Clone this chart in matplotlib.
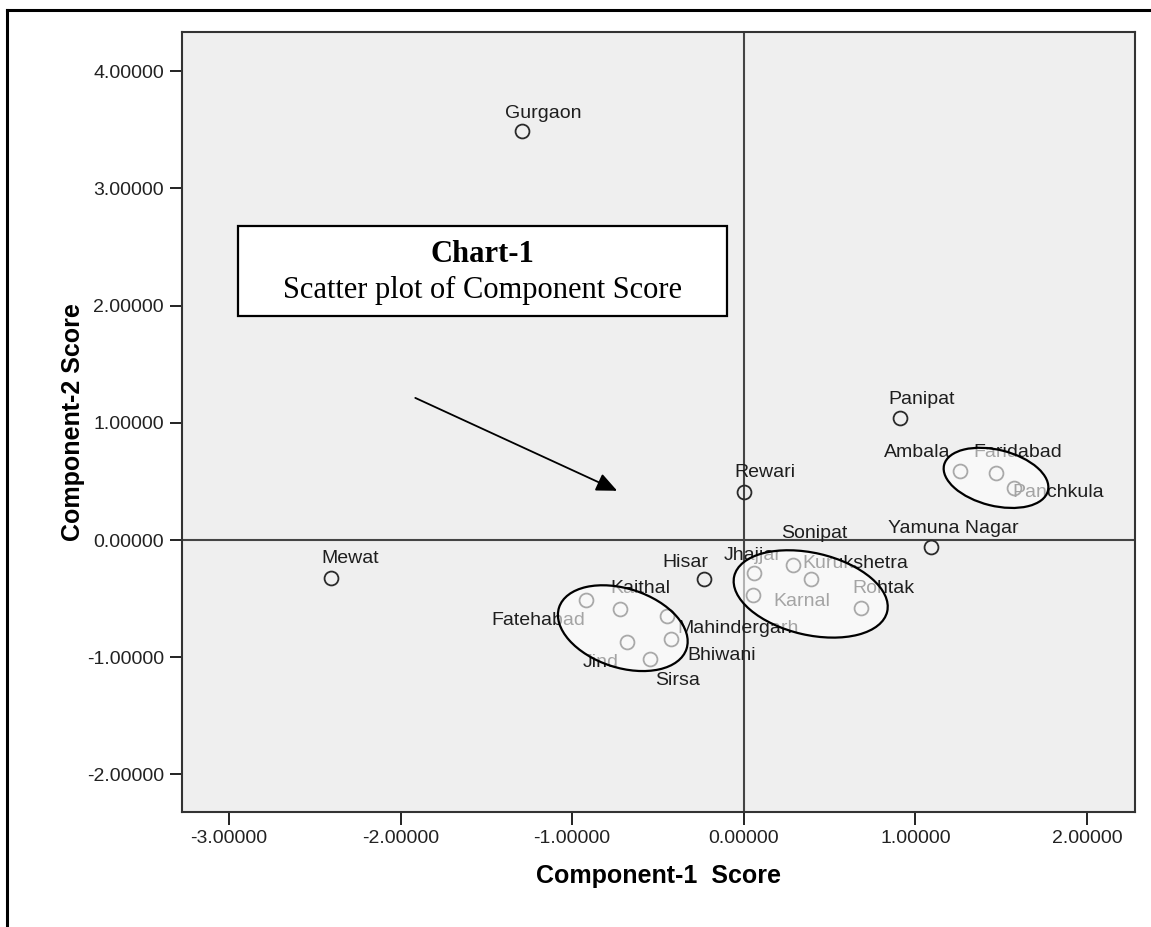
import matplotlib
matplotlib.use("Agg")
import matplotlib.pyplot as plt
from matplotlib.patches import Ellipse, Rectangle
from matplotlib.lines import Line2D
from matplotlib.transforms import ScaledTranslation

# component scores per district
districts = ['Gurgaon', 'Mewat', 'Panipat', 'Rewari', 'Ambala', 'Faridabad',
             'Panchkula', 'Yamuna Nagar', 'Jhajjar', 'Karnal', 'Sonipat',
             'Kurukshetra', 'Rohtak', 'Hisar', 'Fatehabad', 'Kaithal',
             'Mahindergarh', 'Bhiwani', 'Jind', 'Sirsa']
comp1 = [-1.294, -2.407, 0.909, 0.000, 1.259, 1.469, 1.573, 1.090, 0.058, 0.052,
         0.286, 0.390, 0.682, -0.233, -0.921, -0.723, -0.449, -0.425, -0.682, -0.548]
comp2 = [3.488, -0.324, 1.040, 0.410, 0.588, 0.571, 0.443, -0.060, -0.281, -0.469,
         -0.213, -0.333, -0.580, -0.333, -0.512, -0.588, -0.648, -0.844, -0.870, -1.015]

xticks = [-3, -2, -1, 0, 1, 2]
yticks = [-2, -1, 0, 1, 2, 3, 4]

# label placement (pixels from point, alignment)
lab_off = {
    'Gurgaon': (-17, 13, 'left'), 'Mewat': (-9, 15, 'left'),
    'Panipat': (-11, 14, 'left'), 'Rewari': (-9, 15, 'left'),
    'Ambala': (-9, 14, 'right'), 'Faridabad': (-22, 16, 'left'),
    'Panchkula': (-1, -9, 'left'), 'Yamuna Nagar': (-43, 14, 'left'),
    'Jhajjar': (-30, 13, 'left'), 'Karnal': (21, -11, 'left'),
    'Sonipat': (-12, 27, 'left'), 'Kurukshetra': (-8, 11, 'left'),
    'Rohtak': (-8, 15, 'left'), 'Hisar': (5, 12, 'right'),
    'Fatehabad': (0, -25, 'right'), 'Kaithal': (-9, 16, 'left'),
    'Mahindergarh': (11, -17, 'left'), 'Bhiwani': (17, -21, 'left'),
    'Jind': (-8, -25, 'right'), 'Sirsa': (5, -26, 'left'),
}

sans = 'Liberation Sans'
serif = 'Liberation Serif'

fig = plt.figure(figsize=(11.51, 9.27), dpi=100, facecolor='white')
ax = fig.add_axes([0.1581, 0.12406, 0.828, 0.8414])
ax.set_facecolor('#efefef')

ax.set_xlim(-3.274, 2.28)
ax.set_ylim(-2.32, 4.333)

ax.axhline(0, color='#444444', lw=1.5, zorder=1)
ax.axvline(0, color='#444444', lw=1.5, zorder=1)

ax.plot(comp1, comp2, 'o', ms=10, mfc='none', mec='#2a2a2a', mew=1.3, zorder=2)

for name, x, y in zip(districts, comp1, comp2):
    dx, dy, ha = lab_off[name]
    ax.annotate(name, (x, y), xytext=(dx, dy), textcoords='offset pixels',
                ha=ha, va='baseline', fontsize=14, family=sans,
                color='#1e1e1e', zorder=3)

# cluster ellipses (sizes in inches around a data centre)
clusters = [(-0.705, -0.752, 1.34, 0.79, -18),
            (0.39, -0.46, 1.57, 0.82, -13),
            (1.47, 0.53, 1.07, 0.56, -14)]
for cx, cy, w, h, ang in clusters:
    tr = fig.dpi_scale_trans + ScaledTranslation(cx, cy, ax.transData)
    ax.add_patch(Ellipse((0, 0), w, h, angle=ang, transform=tr,
                         facecolor=(1, 1, 1, 0.6), edgecolor='black',
                         lw=1.6, zorder=4))

# title box
ax.add_patch(Rectangle((0.0588, 0.636), 0.513, 0.115, transform=ax.transAxes,
                       facecolor='white', edgecolor='black', lw=1.6, zorder=5))
ax.text(0.315, 0.705, 'Chart-1', transform=ax.transAxes, ha='center',
        va='baseline', fontsize=22, fontweight='bold', family=serif, zorder=6)
ax.text(0.315, 0.659, 'Scatter plot of Component Score', transform=ax.transAxes,
        ha='center', va='baseline', fontsize=22, family=serif, zorder=6)

ax.annotate('', xy=(-0.723, 0.41), xytext=(-1.929, 1.222),
            arrowprops=dict(arrowstyle='-|>,head_length=0.45,head_width=0.2',
                            mutation_scale=28, color='black', lw=1.3),
            zorder=6)

ax.set_xticks(xticks)
ax.set_yticks(yticks)
ax.set_xticklabels(['%.5f' % t for t in xticks], family=sans, fontsize=14)
ax.set_yticklabels(['%.5f' % t for t in yticks], family=sans, fontsize=14)
ax.tick_params(length=9, width=1.4, color='#222222', pad=4, labelcolor='#222222')
for s in ax.spines.values():
    s.set_color('#333333')
    s.set_linewidth(1.5)

ax.set_xlabel('Component-1  Score', family=sans, fontsize=18, fontweight='bold',
              labelpad=12)
ax.set_ylabel('Component-2 Score', family=sans, fontsize=18, fontweight='bold',
              labelpad=1)

# outer frame (left and top edges visible)
fig.add_artist(Line2D([7 / 1151, 7 / 1151], [0, 1 - 10 / 927], color='black', lw=2.2))
fig.add_artist(Line2D([7 / 1151, 1], [1 - 10 / 927, 1 - 10 / 927], color='black', lw=2.2))

fig.savefig('out.png', dpi=100, facecolor='white')
